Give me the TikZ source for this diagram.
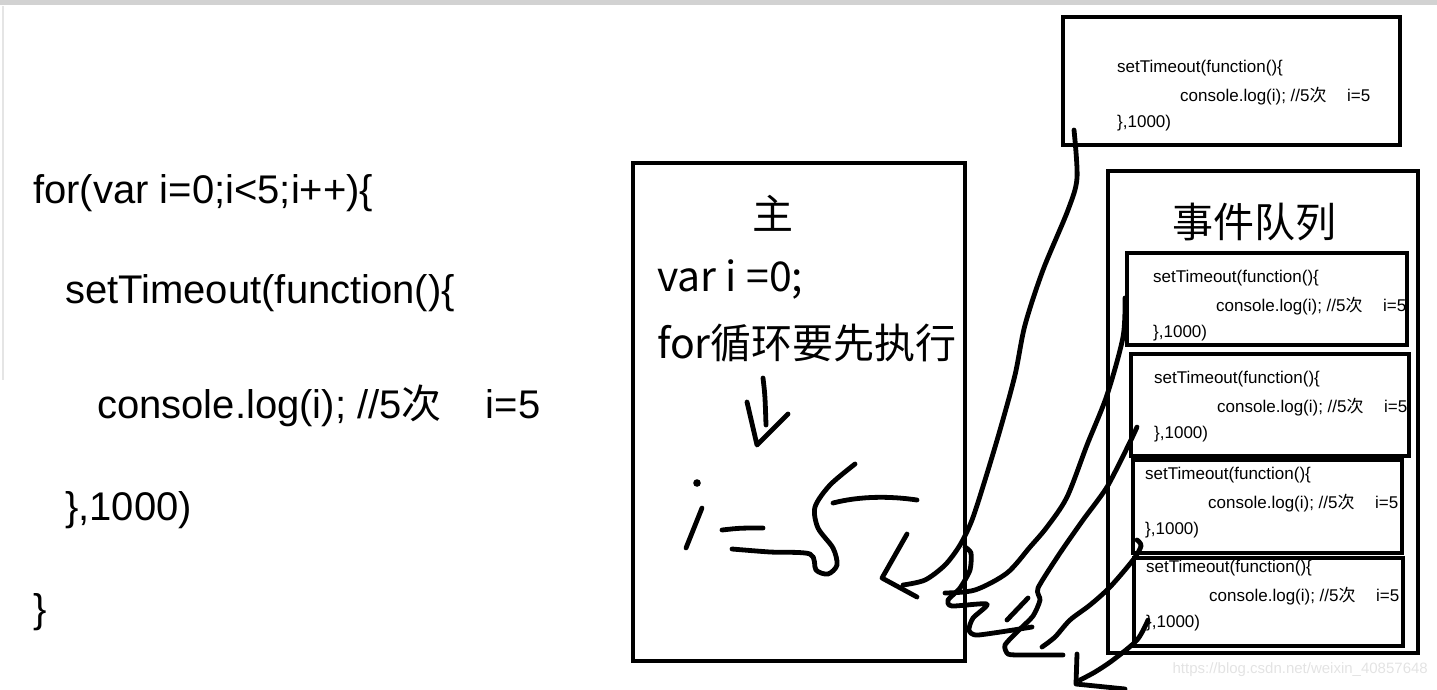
\documentclass[tikz,border=0pt]{standalone}
\usepackage{fontspec}
\setmainfont{Liberation Sans}
\newfontfamily\cjk{Noto Sans CJK SC}
\usetikzlibrary{positioning}

% three lines of the timer code, left edge and first line
\newcommand\timercode[3]{%
  \node[small] (#1-a) at (#2,#3) {setTimeout(function()\{};
  \node[small] (#1-b) at (#2+63,#3+28) {console.log(i); //5{\cjk 次}\hspace{1.2em}i=5};
  \node[small] (#1-c) at (#2,#3+55) {\},1000)};
}

\begin{document}
\begin{tikzpicture}[x=1pt,y=-1pt,
  box/.style={draw,line width=3.5pt,inner sep=0pt},
  code/.style={anchor=base west,inner sep=0pt,font=\fontsize{40}{48}\selectfont},
  small/.style={anchor=west,inner sep=0pt,font=\fontsize{17}{20}\selectfont},
  big/.style={inner sep=0pt,font=\cjk\fontsize{41}{48}\selectfont},
  pen/.style={line width=4.8pt,line cap=round,line join=round}]
  \useasboundingbox (0,0) rectangle (1437,689);
  \fill[gray!35] (0,0) rectangle (1437,5);
  \draw[gray!20,line width=2pt] (3,6) -- (3,380);

  % code on the left
  \node[code] (for)  at (33,203)  {for(var i=0;i<5;i++)\{};
  \node[code] (set)  at (65,303)  {setTimeout(function()\{};
  \node[code] (log)  at (97,418)  {console.log(i); //5{\cjk 次}\hspace{1.1em}i=5};
  \node[code] (tim)  at (65,520)  {\},1000)};
  \node[code] (end)  at (33,622)  {\}};

  % main thread
  \node[box,minimum width=332,minimum height=498] (main) at (799,412) {};
  \node[big] (zhu) at (773,213) {主};
  \node[big,anchor=base west] (var) at (657,291) {var i =0;};
  \node[big,anchor=base west] (loop) at (657,358) {for循环要先执行};

  % timer waiting outside
  \node[box,minimum width=337,minimum height=128] (top) at (1231.5,81) {};
  \timercode{t0}{1117}{68}

  % event queue
  \node[box,minimum width=310,minimum height=482] (queue) at (1263,412) {};
  \node[big] (qtitle) at (1254,222) {事件队列};
  \node[box,minimum width=280,minimum height=92]  (q1) at (1267,299) {};
  \node[box,minimum width=278,minimum height=102] (q2) at (1270,405) {};
  \node[box,minimum width=269,minimum height=93]  (q3) at (1267.5,506.5) {};
  \node[box,minimum width=269,minimum height=88]  (q4) at (1268.5,602) {};
  \timercode{t1}{1153}{278}
  \timercode{t2}{1154}{379}
  \timercode{t3}{1145}{475}
  \timercode{t4}{1146}{568}

  \node[anchor=east,inner sep=0pt,text=gray!22,font=\fontsize{15}{18}\selectfont]
    (mark) at (1428,670) {https://blog.csdn.net/weixin\_40857648};

  % hand drawn: i=5 inside main
  \draw[pen] (763,378) .. controls (765,395) .. (766,425);
  \draw[pen] (747,402) -- (757,445) -- (788,414);
  \fill (697,483) circle (3.8);
  \draw[pen] (702,508) -- (686,548);
  \draw[pen] (722,530) .. controls (740,528) .. (763,528);
  \draw[pen] plot[smooth,tension=0.5] coordinates {(732,549) (770,552) (810,554)
    (816,570) (828,574) (837,565) (833,548) (818,528) (815,507) (830,485) (855,464)};
  \draw[pen] (833,503) .. controls (860,496) and (890,496) .. (917,500);
  \draw[pen] (907,534) -- (882,578) -- (917,597);

  % hand drawn: timers falling back into main
  \draw[pen] plot[smooth,tension=0.5] coordinates {(1074,130) (1077,178) (1068,210)
    (1043,270) (1025,325) (1015,375) (1000,430) (985,480) (972,520) (960,545)
    (945,565) (925,580) (903,585)};
  \draw[pen] plot[smooth,tension=0.5] coordinates {(1125,298) (1123,337) (1107,395)
    (1087,445) (1067,497) (1047,527) (1030,547) (1007,573) (975,590) (945,593)};
  \draw[pen] plot[smooth,tension=0.4] coordinates {(965,547) (971,553) (970,570)
    (960,588) (948,600) (952,606) (987,604) (973,618) (969,630) (978,635) (1032,627)};
  \draw[pen] plot[smooth,tension=0.4] coordinates {(1137,427) (1130,442) (1107,487)
    (1083,520) (1060,553) (1038,588) (1040,600) (1033,616) (1018,631) (1005,645)
    (1008,654) (1022,655) (1063,655)};
  \draw[pen] (1007,620) -- (1028,598);
  \draw[pen] plot[smooth,tension=0.5] coordinates {(1137,540) (1141,546) (1133,560)
    (1110,587) (1090,605) (1070,620) (1055,637) (1042,647)};
  \draw[pen] plot[smooth,tension=0.5] coordinates {(1148,620) (1137,640) (1113,660)
    (1095,672) (1080,680)};
  \draw[pen] (1077,654) -- (1076,684) -- (1125,689);
\end{tikzpicture}
\end{document}
